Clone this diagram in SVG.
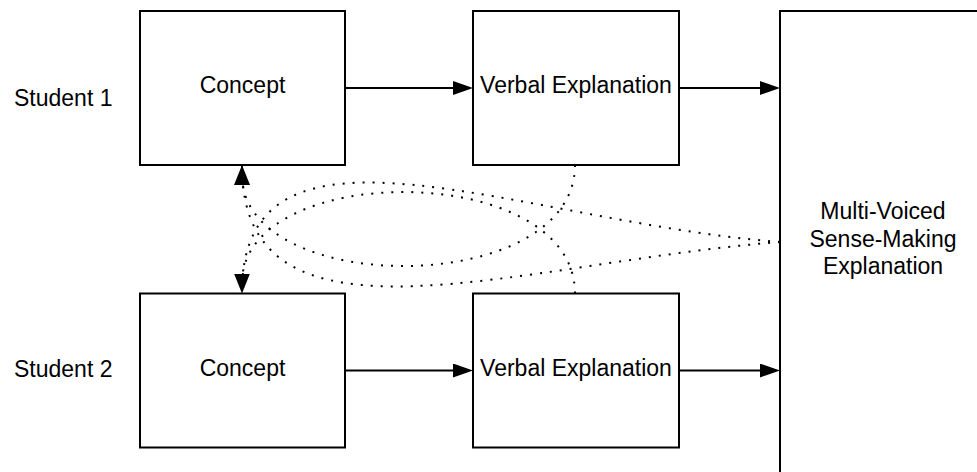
<svg xmlns="http://www.w3.org/2000/svg" width="977" height="472" viewBox="0 0 977 472">
<style>
  .box { fill: #fff; stroke: #000; stroke-width: 2; }
  .lbl { font-family: "Liberation Sans", Arial, sans-serif; font-size: 23px; fill: #000; }
  .mid { text-anchor: middle; }
  .solid { fill: none; stroke: #000; stroke-width: 2; }
  .dot { fill: none; stroke: #000; stroke-width: 2; stroke-dasharray: 2 8; }
</style>
<defs>
  <marker id="ah" viewBox="0 0 20 14" refX="10" refY="7" markerWidth="20" markerHeight="14" markerUnits="userSpaceOnUse" orient="auto">
    <path d="M0,0 L20,7 L0,14 Z" fill="#000"/>
  </marker>
  <marker id="ahv" viewBox="0 0 20 16" refX="19" refY="8" markerWidth="20" markerHeight="16" markerUnits="userSpaceOnUse" orient="auto">
    <path d="M0,0 L20,8 L0,16 Z" fill="#000"/>
  </marker>
</defs>
<rect width="977" height="472" fill="#fff"/>
<g id="student1-label"><text class="lbl" x="14" y="106">Student 1</text></g>
<g id="student2-label"><text class="lbl" x="14" y="376.5">Student 2</text></g>
<g id="concept1"><rect class="box" x="140" y="11" width="205" height="154"/><text class="lbl mid" x="242.5" y="93">Concept</text></g>
<g id="verbal1"><rect class="box" x="473" y="11" width="206" height="154"/><text class="lbl mid" x="576" y="93">Verbal Explanation</text></g>
<g id="concept2"><rect class="box" x="140" y="293.5" width="205" height="154"/><text class="lbl mid" x="242.5" y="376">Concept</text></g>
<g id="verbal2"><rect class="box" x="473" y="293.5" width="206" height="154"/><text class="lbl mid" x="576" y="376">Verbal Explanation</text></g>
<g id="multi"><rect class="box" x="780" y="11" width="260" height="500"/>
  <text class="lbl mid" x="883" y="218.5">Multi-Voiced</text>
  <text class="lbl mid" x="883" y="246.5">Sense-Making</text>
  <text class="lbl mid" x="883" y="274">Explanation</text>
</g>
<g id="connectors">
  <path class="solid" d="M345,88 H463" marker-end="url(#ah)"/>
  <path class="solid" d="M679,88 H770" marker-end="url(#ah)"/>
  <path class="solid" d="M345,370.5 H463" marker-end="url(#ah)"/>
  <path class="solid" d="M679,370.5 H770" marker-end="url(#ah)"/>
  <path class="dot" d="M780,242 C520,262 242,365 242,166" marker-end="url(#ahv)"/>
  <path class="dot" d="M780,242 C520,222 242,93 242,292.5" marker-end="url(#ahv)"/>
  <path class="dot" d="M575,165 C575,298 242,298 242,175"/>
  <path class="dot" d="M575,293.5 C575,160 242,160 242,283"/>
</g>
</svg>
